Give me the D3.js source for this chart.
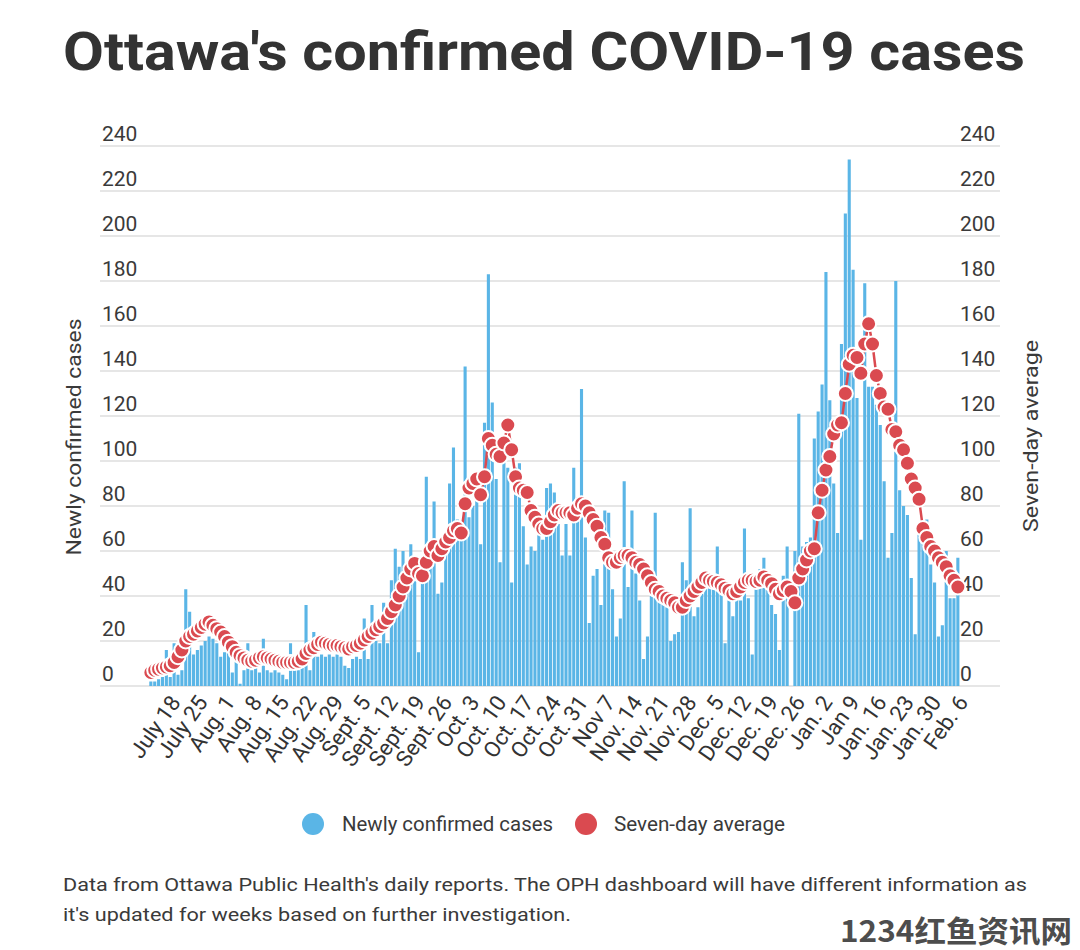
<!DOCTYPE html>
<html><head><meta charset="utf-8">
<script src="https://cdn.jsdelivr.net/npm/d3@7"></script>
<style>body{margin:0;background:#fff} svg{display:block}</style>
</head><body>
<svg id="c" width="1080" height="950"></svg>
<script>
// ---- data ----
const startDay = "2020-07-13";
const endDay = "2021-02-06";
const newCases = [2,2,3,4,16,4,19,5,7,43,
33,14,16,18,20,22,21,19,13,15,
16,6,12,1,7,19,7,8,6,21,
7,6,7,6,5,3,19,7,7,8,
36,7,24,13,14,13,14,13,14,13,
9,8,12,13,12,30,12,36,20,19,
37,19,47,61,53,60,51,63,50,15,
52,93,57,82,41,46,65,90,106,74,
69,142,75,80,83,63,117,183,126,92,
55,100,97,46,97,99,71,54,62,60,
67,65,88,90,86,72,58,72,58,97,
84,132,66,28,49,52,36,78,77,43,
22,30,91,44,78,50,38,12,22,40,
77,41,37,35,20,23,24,55,47,79,
31,35,41,44,47,46,62,46,19,38,
31,40,38,70,39,14,43,52,57,43,
36,32,16,49,62,0,60,121,62,64,
66,110,122,134,184,127,90,68,152,210,
234,185,128,65,179,133,133,125,116,91,
57,68,180,87,80,76,48,23,71,65,
74,54,46,22,27,60,39,39,57];
const sevenDayAvg = [6,7,7.5,8,8.5,9,10.5,13,16,20,
22,23,24.5,26,27.5,28.5,27,25.5,24,22,
19.5,17.5,15,13.5,12.5,11.5,11,11.5,12.5,13,
12.5,12,11.5,11,10.5,10.5,10.5,10.5,11,12,
14.5,16,17,18.5,19.5,19,18.5,18,18,17.5,
17,16.5,17.5,18,19,20.5,22,23.5,25,26.5,
28,30,33,36,40,44,48,52,54.5,50,
49,55,60,62,58,61,64,66,69,70,
68,81,88,90,92,85,93,110,107,103,
102,108,116,105,93,88,87,86,78,75,
72,70,70,73,76,78,77,77,77,76,
79,81,80,77,74,71,66,63,57,55,
55,57,58,58,57,55,54,52,49,46,
43,42,40,39,38,37,35,35,38,40,
42,44,46,48,47,46.5,46,45,43.5,42.5,
41,42,44,46,47,47,46.5,47,48.5,47,
45.5,43,41,42.5,44,42,37,48,52,56,
60,61,77,87,96,102,112,116,117,130,
143,147,146,139,152,161,152,138,130,124,
123,114,113,107,105,99,92,88,83,70,
66,62,60,57,55,53,49,47,44];
const tickLabels = ["July 18","July 25","Aug. 1","Aug. 8","Aug. 15","Aug. 22","Aug. 29","Sept. 5","Sept. 12","Sept. 19","Sept. 26","Oct. 3","Oct. 10","Oct. 17","Oct. 24","Oct. 31","Nov 7","Nov. 14","Nov. 21","Nov. 28","Dec. 5","Dec. 12","Dec. 19","Dec. 26","Jan. 2","Jan 9","Jan. 16","Jan. 23","Jan. 30","Feb. 6"];
const tickDates = ["2020-07-18","2020-07-25","2020-08-01","2020-08-08","2020-08-15","2020-08-22","2020-08-29","2020-09-05","2020-09-12","2020-09-19","2020-09-26","2020-10-03","2020-10-10","2020-10-17","2020-10-24","2020-10-31","2020-11-07","2020-11-14","2020-11-21","2020-11-28","2020-12-05","2020-12-12","2020-12-19","2020-12-26","2021-01-02","2021-01-09","2021-01-16","2021-01-23","2021-01-30","2021-02-06"];
const yTicks = [0,20,40,60,80,100,120,140,160,180,200,220,240];
const seriesNames = ["Newly confirmed cases","Seven-day average"];
const titleText = "Ottawa's confirmed COVID-19 cases";
const noteLines = ["Data from Ottawa Public Health's daily reports. The OPH dashboard will have different information as","it's updated for weeks based on further investigation."];
const watermark = "1234红鱼资讯网";

// ---- style ----
const BLUE = "#5ab5e6", RED = "#da4a50", TXT = "#3a3a3a";
const FONT = "Roboto, 'Noto Sans', sans-serif";

const svg = d3.select("#c");
const parse = d3.timeParse("%Y-%m-%d"), fmt = d3.timeFormat("%Y-%m-%d");
const days = d3.timeDay.range(parse(startDay), d3.timeDay.offset(parse(endDay), 1)).map(fmt);
const rows = days.map((k, i) => ({k, v: newCases[i], a: sevenDayAvg[i]}));

const x = d3.scaleBand().domain(days).range([148.9, 959.8]).paddingInner(0.2).paddingOuter(0.1);
const y = d3.scaleLinear().domain([0, 240]).range([686, 146]);
const cx = k => x(k) + x.bandwidth() / 2;

function fit(sel, w) {
  const n = sel.node(); const m = n.getComputedTextLength();
  if (Math.abs(m - w) > 1) sel.attr("textLength", w).attr("lengthAdjust", "spacingAndGlyphs");
}

// title
const t = svg.append("text").attr("x", 63).attr("y", 70).attr("font-family", FONT)
  .attr("font-weight", 700).attr("font-size", 54).attr("fill", "#333").text(titleText);
fit(t, 962);

// grid
svg.append("g").selectAll("line").data(yTicks).join("line")
  .attr("x1", 100).attr("x2", 1000).attr("y1", d => y(d)).attr("y2", d => y(d))
  .attr("stroke", "#dedede").attr("stroke-width", 1.5);

// y labels
["left", "right"].forEach(side => {
  svg.append("g").selectAll("text").data(yTicks).join("text")
    .attr("x", side === "left" ? 102 : 960).attr("y", d => y(d) - 5)
    .attr("font-family", FONT).attr("font-size", 21).attr("fill", TXT).text(d => d);
});

// bars
svg.append("g").selectAll("rect").data(rows).join("rect")
  .attr("x", d => x(d.k)).attr("width", x.bandwidth())
  .attr("y", d => y(d.v)).attr("height", d => y(0) - y(d.v)).attr("fill", BLUE);

// line + dots
svg.append("path").datum(rows).attr("fill", "none").attr("stroke", RED).attr("stroke-width", 2.5)
  .attr("d", d3.line().x(d => cx(d.k)).y(d => y(d.a)));
svg.append("g").selectAll("circle").data(rows).join("circle")
  .attr("cx", d => cx(d.k)).attr("cy", d => y(d.a)).attr("r", 7.5)
  .attr("fill", RED).attr("stroke", "#fff").attr("stroke-width", 2);

// x labels
svg.append("g").selectAll("text").data(tickDates).join("text")
  .attr("transform", d => `translate(${cx(d) + 5},${698}) rotate(-55)`)
  .attr("text-anchor", "end").attr("dy", "0.35em")
  .attr("font-family", FONT).attr("font-size", 22).attr("fill", "#333")
  .text((d, i) => tickLabels[i]);

// axis titles
const lt = svg.append("text").attr("transform", "translate(81,437) rotate(-90)").attr("text-anchor", "middle")
  .attr("font-family", FONT).attr("font-size", 20).attr("fill", TXT).text(seriesNames[0]);
fit(lt, 237);
const rt = svg.append("text").attr("transform", "translate(1038,436) rotate(-90)").attr("text-anchor", "middle")
  .attr("font-family", FONT).attr("font-size", 20).attr("fill", TXT).text(seriesNames[1]);
fit(rt, 192);

// legend
svg.append("circle").attr("cx", 313).attr("cy", 824).attr("r", 11).attr("fill", BLUE);
fit(svg.append("text").attr("x", 342).attr("y", 831).attr("font-family", FONT).attr("font-size", 20)
  .attr("fill", TXT).text(seriesNames[0]), 211);
svg.append("circle").attr("cx", 586).attr("cy", 824).attr("r", 11).attr("fill", RED);
fit(svg.append("text").attr("x", 614).attr("y", 831).attr("font-family", FONT).attr("font-size", 20)
  .attr("fill", TXT).text(seriesNames[1]), 171);

// note
fit(svg.append("text").attr("x", 63).attr("y", 891).attr("font-family", FONT).attr("font-size", 18)
  .attr("fill", TXT).text(noteLines[0]), 964);
fit(svg.append("text").attr("x", 63).attr("y", 921).attr("font-family", FONT).attr("font-size", 18)
  .attr("fill", TXT).text(noteLines[1]), 508);

// watermark
fit(svg.append("text").attr("x", 840).attr("y", 942).attr("font-family", "'Noto Sans CJK SC', sans-serif")
  .attr("font-weight", 700).attr("font-size", 30).attr("fill", "#4d4d4d").text(watermark), 232);
</script>
</body></html>
